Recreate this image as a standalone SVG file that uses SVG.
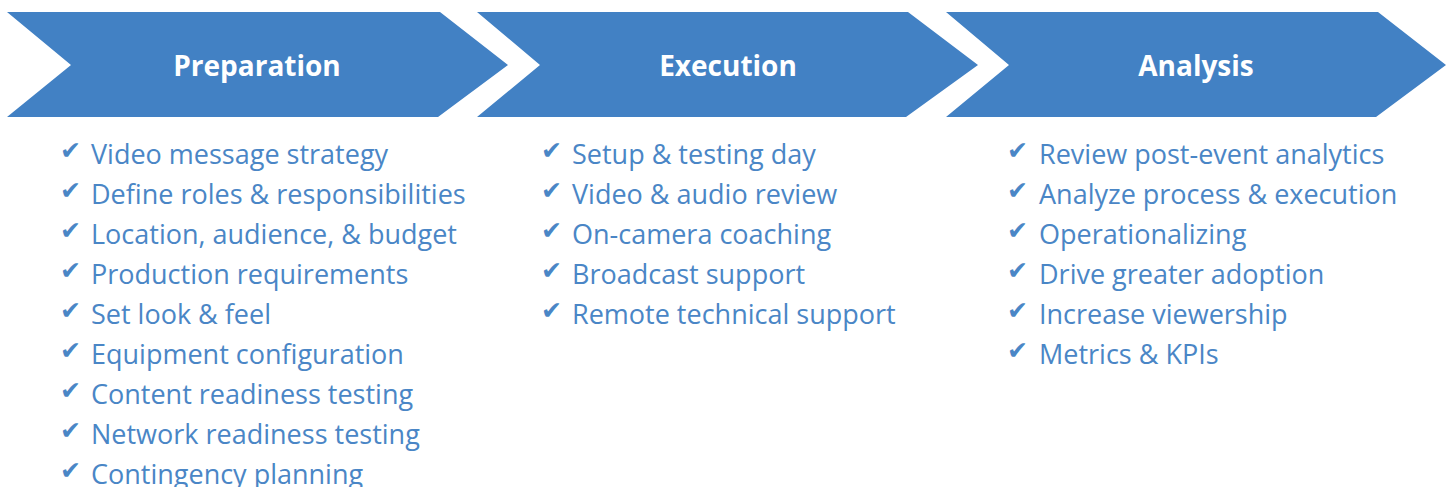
<svg xmlns="http://www.w3.org/2000/svg" width="1452" height="487" viewBox="0 0 1452 487">
<style>
.chev{fill:#4281c4}
.hd{font-family:"Open Sans","Liberation Sans",sans-serif;font-weight:700;font-size:28px;fill:#ffffff;text-anchor:middle}
.it{font-family:"Open Sans","Liberation Sans",sans-serif;font-size:27px;fill:#4a86c6}
.ck{font-family:"DejaVu Sans",sans-serif;font-size:25px;fill:#4a86c6}
</style>
<rect width="1452" height="487" fill="#ffffff"/>
<g id="preparation">
<polygon class="chev" points="7,12 440,12 508,65 438,117 7,117 71,65"/>
<text class="hd" x="257" y="76">Preparation</text>
</g>
<g id="execution">
<polygon class="chev" points="477,12 908,12 978,65 906,117 477,117 540,65"/>
<text class="hd" x="728" y="76">Execution</text>
</g>
<g id="analysis">
<polygon class="chev" points="946,12 1378,12 1446,65 1376,117 946,117 1009,65"/>
<text class="hd" x="1196" y="76">Analysis</text>
</g>
<g id="preparation-list">
<text class="ck" x="60" y="159">✔</text><text class="it" x="91" y="164">Video message strategy</text>
<text class="ck" x="60" y="199">✔</text><text class="it" x="91" y="204">Define roles &amp; responsibilities</text>
<text class="ck" x="60" y="239">✔</text><text class="it" x="91" y="244">Location, audience, &amp; budget</text>
<text class="ck" x="60" y="279">✔</text><text class="it" x="91" y="284">Production requirements</text>
<text class="ck" x="60" y="319">✔</text><text class="it" x="91" y="324">Set look &amp; feel</text>
<text class="ck" x="60" y="359">✔</text><text class="it" x="91" y="364">Equipment configuration</text>
<text class="ck" x="60" y="399">✔</text><text class="it" x="91" y="404">Content readiness testing</text>
<text class="ck" x="60" y="439">✔</text><text class="it" x="91" y="444">Network readiness testing</text>
<text class="ck" x="60" y="479">✔</text><text class="it" x="91" y="484">Contingency planning</text>
</g>
<g id="execution-list">
<text class="ck" x="541" y="159">✔</text><text class="it" x="572" y="164">Setup &amp; testing day</text>
<text class="ck" x="541" y="199">✔</text><text class="it" x="572" y="204">Video &amp; audio review</text>
<text class="ck" x="541" y="239">✔</text><text class="it" x="572" y="244">On-camera coaching</text>
<text class="ck" x="541" y="279">✔</text><text class="it" x="572" y="284">Broadcast support</text>
<text class="ck" x="541" y="319">✔</text><text class="it" x="572" y="324">Remote technical support</text>
</g>
<g id="analysis-list">
<text class="ck" x="1007" y="159">✔</text><text class="it" x="1039" y="164">Review post-event analytics</text>
<text class="ck" x="1007" y="199">✔</text><text class="it" x="1039" y="204">Analyze process &amp; execution</text>
<text class="ck" x="1007" y="239">✔</text><text class="it" x="1039" y="244">Operationalizing</text>
<text class="ck" x="1007" y="279">✔</text><text class="it" x="1039" y="284">Drive greater adoption</text>
<text class="ck" x="1007" y="319">✔</text><text class="it" x="1039" y="324">Increase viewership</text>
<text class="ck" x="1007" y="359">✔</text><text class="it" x="1039" y="364">Metrics &amp; KPIs</text>
</g>
<g id="connectors"/>
</svg>
